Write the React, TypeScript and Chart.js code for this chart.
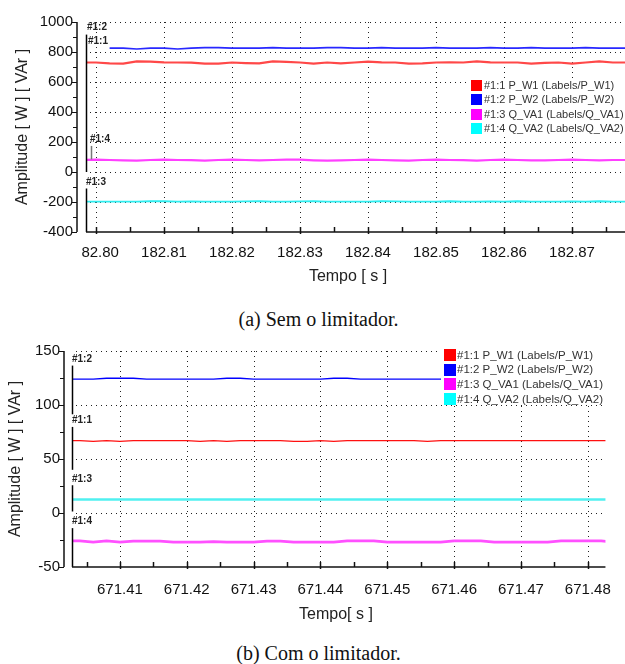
import React, { useEffect, useRef } from 'react';
import { Chart, registerables } from 'chart.js';
Chart.register(...registerables);

// ---------- Chart (a) data ----------
const timeA = [182.798, 182.800, 182.802, 182.804, 182.806, 182.808, 182.810, 182.812, 182.814, 182.816, 182.818, 182.820, 182.822, 182.824, 182.826, 182.828, 182.830, 182.832, 182.834, 182.836, 182.838, 182.840, 182.842, 182.844, 182.846, 182.848, 182.850, 182.852, 182.854, 182.856, 182.858, 182.860, 182.862, 182.864, 182.866, 182.868, 182.870, 182.872, 182.874, 182.876, 182.878];
const pW1A = [730, 730, 724, 722, 738, 736, 731, 730, 729, 722, 723, 730, 726, 724, 738, 734, 730, 722, 730, 724, 730, 736, 731, 730, 722, 724, 730, 731, 730, 737, 731, 730, 730, 722, 728, 730, 723, 730, 738, 730, 730];
const pW2A = [null, null, 826, 826, 820, 826, 826, 820, 826, 829, 829, 826, 826, 826, 829, 826, 826, 826, 829, 829, 826, 826, 829, 826, 826, 826, 829, 826, 826, 826, 829, 826, 826, 829, 826, 826, 826, 829, 826, 826, 826];
const qVA1A = [80, 82, 80, 78, 76, 80, 82, 80, 79, 76, 80, 82, 80, 78, 80, 83, 82, 78, 76, 77, 80, 82, 80, 78, 76, 80, 82, 80, 79, 76, 80, 82, 80, 77, 77, 80, 82, 80, 78, 80, 80];
const qVA2A = [-198, -198, -198, -198, -198, -195, -195, -198, -196, -198, -198, -198, -196, -195, -198, -198, -196, -195, -198, -198, -198, -198, -195, -196, -198, -198, -198, -195, -198, -198, -196, -198, -195, -198, -198, -198, -196, -198, -195, -198, -198];
const xTicksA = [182.80, 182.81, 182.82, 182.83, 182.84, 182.85, 182.86, 182.87];
const xTickLabelsA = ['182.80', '182.81', '182.82', '182.83', '182.84', '182.85', '182.86', '182.87'];
const xMinorA = [182.805, 182.815, 182.825, 182.835, 182.845, 182.855, 182.865, 182.875];
const yTicksA = [-400, -200, 0, 200, 400, 600, 800, 1000];
const yMinorA = [-300, -100, 100, 300, 500, 700, 900];
const legendA = ['#1:1 P_W1 (Labels/P_W1)', '#1:2 P_W2 (Labels/P_W2)', '#1:3 Q_VA1 (Labels/Q_VA1)', '#1:4 Q_VA2 (Labels/Q_VA2)'];
const markerTextA = ['#1:2', '#1:1', '#1:4', '#1:3'];
const markerTextYA = [968, 871, 219, -65];
const markerTextDxA = [1, 2, 4, 0];
const markerLineFromA = [916, -110, 174];
const markerLineToA = [0, -400, 84];
const markerLineDxA = [0, 0, 5];

// ---------- Chart (b) data ----------
const timeB = [671.402, 671.404, 671.406, 671.408, 671.410, 671.412, 671.414, 671.416, 671.418, 671.420, 671.422, 671.424, 671.426, 671.428, 671.430, 671.432, 671.434, 671.436, 671.438, 671.440, 671.442, 671.444, 671.446, 671.448, 671.450, 671.452, 671.454, 671.456, 671.458, 671.460, 671.462, 671.464, 671.466, 671.468, 671.470, 671.472, 671.474, 671.476, 671.478, 671.480, 671.482, 671.484];
const pW1B = [67, 67, 66.3, 67, 66.3, 67, 67, 67, 67, 67, 66.3, 67, 66.3, 67, 67, 67, 67, 66.3, 66.3, 67, 66.3, 67, 67, 67, 67, 67, 67, 66.3, 67, 67, 67, 67, 67, 67, 67, 67, 67, 67, 67, 67, 67, 67];
const pW2B = [124, 124, 124, 124.8, 124.8, 124.8, 124, 124, 124, 124, 124, 124, 124.8, 124.8, 124, 124, 124, 124, 124, 124, 124.8, 124.8, 124, 124, 124, 124, 124, 124, 124, 124, 124, 124, 124, 124, 124, 124, 124, 124, 124, 124, 124, 124];
const qVA1B = [-25.8, -25.8, -27, -25.8, -27, -26, -26, -26, -27, -27, -27, -26.5, -27, -27, -27, -26, -26, -27, -27, -27, -27, -25.8, -25.8, -25.8, -27, -27, -27, -27, -27, -25.8, -25.8, -25.8, -27, -27, -27, -27, -27, -25.8, -25.8, -25.8, -25.8, -27];
const qVA2B = [12.5, 12.5, 12.5, 12.5, 12.5, 12.5, 12.5, 12.5, 12.5, 12.5, 12.5, 12.5, 12.5, 12.5, 12.5, 12.5, 12.5, 12.5, 12.5, 12.5, 12.5, 12.5, 12.5, 12.5, 12.5, 12.5, 12.5, 12.5, 12.5, 12.5, 12.5, 12.5, 12.5, 12.5, 12.5, 12.5, 12.5, 12.5, 12.5, 12.5, 12.5, 12.5];
const xTicksB = [671.41, 671.42, 671.43, 671.44, 671.45, 671.46, 671.47, 671.48];
const xTickLabelsB = ['671.41', '671.42', '671.43', '671.44', '671.45', '671.46', '671.47', '671.48'];
const xMinorB = [671.405, 671.415, 671.425, 671.435, 671.445, 671.455, 671.465, 671.475];
const yTicksB = [-50, 0, 50, 100, 150];
const yMinorB = [-25, 25, 75, 125];
const legendB = ['#1:1 P_W1 (Labels/P_W1)', '#1:2 P_W2 (Labels/P_W2)', '#1:3 Q_VA1 (Labels/Q_VA1)', '#1:4 Q_VA2 (Labels/Q_VA2)'];
const markerTextB = ['#1:2', '#1:1', '#1:3', '#1:4'];
const markerTextYB = [142.8, 86, 31, -7.7];
const markerTextDxB = [0, 0, 0, 0];
const markerLineFromB = [136.5, 79.7, 25.7, -14];
const markerLineToB = [91.4, 40, 1.4, -50];
const markerLineDxB = [0, 0, 0, 0];

const legendColors = ['#ff0000', '#0000ff', '#ff00ff', '#00ffff'];
const FONT = '"Liberation Sans", Arial, sans-serif';

type Cfg = {
  width: number; height: number;
  time: number[]; series: (number | null)[][]; lineColors: string[]; lineWidths: number[];
  legend: string[];
  xMin: number; xMax: number; yMin: number; yMax: number;
  xTicks: number[]; xTickLabels: string[]; xMinor: number[];
  yTicks: number[]; yMinor: number[];
  yAxisWidth: number; padTop: number; padRight: number; xAxisHeight: number;
  xLabelPad: number; yLabelPad: number; yAxisGap: number;
  legendBox: { x: number; y: number; w: number; h: number; boxX: number; row0: number; rowGap: number; box: number; textX: number; font: number };
  markerText: string[]; markerTextY: number[]; markerTextDx: number[];
  markerLineFrom: number[]; markerLineTo: number[]; markerLineDx: number[];
  yTitle: string; yTitleX: number; xTitle: string; xTitleX: number; xTitleY: number;
  cover?: { x: number; y: number; w: number; h: number };
};

function makePlugin(cfg: Cfg) {
  return {
    id: 'decor',
    beforeDatasetsDraw(chart: any) {
      const { ctx, chartArea: a, scales } = chart;
      const x = scales.x, y = scales.y;
      ctx.save();
      ctx.strokeStyle = '#222';
      ctx.lineWidth = 1;
      ctx.setLineDash([1, 4]);
      for (const v of cfg.yTicks) {
        if (v === cfg.yMin) continue;
        const py = Math.round(y.getPixelForValue(v)) + 0.5;
        ctx.beginPath(); ctx.moveTo(a.left + 4, py); ctx.lineTo(a.right, py); ctx.stroke();
      }
      for (const v of cfg.xTicks) {
        const px = Math.round(x.getPixelForValue(v)) + 0.5;
        ctx.beginPath(); ctx.moveTo(px, a.top); ctx.lineTo(px, a.bottom); ctx.stroke();
      }
      ctx.restore();
    },
    afterDatasetsDraw(chart: any) {
      const { ctx, chartArea: a, scales } = chart;
      const x = scales.x, y = scales.y;
      ctx.save();
      // legend
      const L = cfg.legendBox;
      ctx.fillStyle = '#fff';
      ctx.fillRect(L.x, L.y, L.w, L.h);
      ctx.font = `${L.font}px ${FONT}`;
      ctx.textBaseline = 'middle';
      ctx.textAlign = 'left';
      chart.data.datasets.forEach((ds: any, i: number) => {
        const cy = L.row0 + i * L.rowGap;
        ctx.fillStyle = legendColors[i];
        ctx.fillRect(L.boxX, Math.round(cy - L.box / 2), L.box, L.box);
        ctx.fillStyle = '#333';
        ctx.fillText(ds.label, L.textX, cy + 0.5);
      });
      // marker lines
      ctx.lineWidth = 1.5;
      cfg.markerLineFrom.forEach((f, i) => {
        const px = a.left + 0.5 + cfg.markerLineDx[i];
        ctx.strokeStyle = cfg.markerLineDx[i] ? '#777' : '#000';
        ctx.beginPath();
        ctx.moveTo(px, y.getPixelForValue(f));
        ctx.lineTo(px, y.getPixelForValue(cfg.markerLineTo[i]));
        ctx.stroke();
      });
      // marker labels
      ctx.font = `bold 10px ${FONT}`;
      ctx.fillStyle = '#222';
      cfg.markerText.forEach((t, i) => {
        ctx.fillText(t, a.left + cfg.markerTextDx[i], y.getPixelForValue(cfg.markerTextY[i]));
      });
      // axes
      ctx.strokeStyle = '#111';
      ctx.lineWidth = 1.5;
      const ax = a.left - cfg.yAxisGap;
      ctx.beginPath(); ctx.moveTo(ax, a.top); ctx.lineTo(ax, a.bottom); ctx.stroke();
      ctx.beginPath(); ctx.moveTo(a.left, a.bottom); ctx.lineTo(a.right, a.bottom); ctx.stroke();
      ctx.lineWidth = 1;
      for (const v of cfg.yTicks) {
        const py = Math.round(y.getPixelForValue(v)) + 0.5;
        ctx.beginPath(); ctx.moveTo(ax - 5, py); ctx.lineTo(ax, py); ctx.stroke();
      }
      for (const v of cfg.yMinor) {
        const py = Math.round(y.getPixelForValue(v)) + 0.5;
        ctx.beginPath(); ctx.moveTo(ax - 4, py); ctx.lineTo(ax, py); ctx.stroke();
      }
      ctx.lineWidth = 1.5;
      for (const v of cfg.xTicks) {
        const px = Math.round(x.getPixelForValue(v)) + 0.5;
        ctx.beginPath(); ctx.moveTo(px, a.bottom - 5); ctx.lineTo(px, a.bottom + 2); ctx.stroke();
      }
      for (const v of cfg.xMinor) {
        const px = Math.round(x.getPixelForValue(v)) + 0.5;
        if (px > a.right) continue;
        ctx.beginPath(); ctx.moveTo(px, a.bottom - 5); ctx.lineTo(px, a.bottom); ctx.stroke();
      }
      ctx.restore();
    },
    afterDraw(chart: any) {
      const { ctx, chartArea: a } = chart;
      ctx.save();
      if (cfg.cover) {
        ctx.fillStyle = '#fff';
        ctx.fillRect(cfg.cover.x, cfg.cover.y, cfg.cover.w, cfg.cover.h);
      }
      ctx.fillStyle = '#222';
      ctx.font = `16px ${FONT}`;
      ctx.textAlign = 'center';
      ctx.textBaseline = 'middle';
      ctx.fillText(cfg.xTitle, cfg.xTitleX, cfg.xTitleY);
      ctx.translate(cfg.yTitleX, (a.top + a.bottom) / 2);
      ctx.rotate(-Math.PI / 2);
      ctx.fillText(cfg.yTitle, 0, 0);
      ctx.restore();
    },
  };
}

function Plot({ cfg, top }: { cfg: Cfg; top: number }) {
  const ref = useRef<HTMLCanvasElement | null>(null);
  useEffect(() => {
    if (!ref.current) return;
    const datasets = cfg.series.map((s, i) => ({
      label: cfg.legend[i],
      data: s.map((v, j) => ({ x: cfg.time[j], y: v })),
      borderColor: cfg.lineColors[i],
      backgroundColor: cfg.lineColors[i],
      borderWidth: cfg.lineWidths[i],
      pointRadius: 0,
      tension: 0,
      spanGaps: false,
    }));
    const chart = new Chart(ref.current, {
      type: 'line',
      data: { datasets },
      options: {
        responsive: false,
        animation: false,
        events: [],
        layout: { padding: { left: 0, right: cfg.padRight, top: cfg.padTop, bottom: 0 } },
        plugins: { legend: { display: false }, tooltip: { enabled: false }, title: { display: false } },
        scales: {
          x: {
            type: 'linear',
            min: cfg.xMin,
            max: cfg.xMax,
            grid: { display: false, drawTicks: false },
            border: { display: false },
            afterBuildTicks: (s: any) => { s.ticks = cfg.xTicks.map((v) => ({ value: v })); },
            afterFit: (s: any) => { s.height = cfg.xAxisHeight; },
            ticks: {
              autoSkip: false,
              maxRotation: 0,
              padding: cfg.xLabelPad,
              color: '#111',
              font: { family: FONT, size: 15 },
              callback: (_v: any, i: number) => cfg.xTickLabels[i],
            },
          },
          y: {
            type: 'linear',
            min: cfg.yMin,
            max: cfg.yMax,
            grid: { display: false, drawTicks: false },
            border: { display: false },
            afterBuildTicks: (s: any) => { s.ticks = cfg.yTicks.map((v) => ({ value: v })); },
            afterFit: (s: any) => { s.width = cfg.yAxisWidth; },
            ticks: {
              padding: cfg.yLabelPad,
              color: '#111',
              font: { family: FONT, size: 15 },
              callback: (v: any) => String(v),
            },
          },
        },
      } as any,
      plugins: [makePlugin(cfg) as any],
    });
    return () => chart.destroy();
  }, [cfg]);
  return (
    <canvas
      ref={ref}
      width={cfg.width}
      height={cfg.height}
      style={{ position: 'absolute', left: 0, top, width: cfg.width, height: cfg.height }}
    />
  );
}

const cfgA: Cfg = {
  width: 625, height: 300,
  time: timeA, series: [pW1A, pW2A, qVA1A, qVA2A],
  lineColors: ['#ff4848', '#2828ff', '#ff40ff', '#30eef0'], lineWidths: [2.2, 1.6, 2.2, 1.8],
  legend: legendA,
  xMin: 182.79853, xMax: 182.87779, yMin: -400, yMax: 1000,
  xTicks: xTicksA, xTickLabels: xTickLabelsA, xMinor: xMinorA, yTicks: yTicksA, yMinor: yMinorA,
  yAxisWidth: 86, padTop: 15, padRight: 0, xAxisHeight: 68, xLabelPad: 12, yLabelPad: 13, yAxisGap: 9,
  legendBox: { x: 467, y: 78, w: 158, h: 58, boxX: 471, row0: 85, rowGap: 14.5, box: 11, textX: 484, font: 11 },
  markerText: markerTextA, markerTextY: markerTextYA, markerTextDx: markerTextDxA,
  markerLineFrom: markerLineFromA, markerLineTo: markerLineToA, markerLineDx: markerLineDxA,
  yTitle: 'Amplitude [ W ] [ VAr ]', yTitleX: 23, xTitle: 'Tempo [ s ]', xTitleX: 348, xTitleY: 277,
  cover: { x: 0, y: 241, w: 81, h: 22 },
};

const cfgB: Cfg = {
  width: 625, height: 305,
  time: timeB, series: [pW1B, pW2B, qVA1B, qVA2B],
  lineColors: ['#ff1010', '#0000ff', '#ff50ff', '#50f0f0'], lineWidths: [1.4, 1.4, 2.6, 2.6],
  legend: legendB,
  xMin: 671.40283, xMax: 671.48264, yMin: -50, yMax: 150,
  xTicks: xTicksB, xTickLabels: xTickLabelsB, xMinor: xMinorB, yTicks: yTicksB, yMinor: yMinorB,
  yAxisWidth: 72, padTop: 15, padRight: 8, xAxisHeight: 68, xLabelPad: 14, yLabelPad: 12, yAxisGap: 8,
  legendBox: { x: 441, y: 18, w: 172, h: 56, boxX: 444, row0: 25, rowGap: 14.7, box: 12, textX: 457, font: 11.5 },
  markerText: markerTextB, markerTextY: markerTextYB, markerTextDx: markerTextDxB,
  markerLineFrom: markerLineFromB, markerLineTo: markerLineToB, markerLineDx: markerLineDxB,
  yTitle: 'Amplitude [ W ] [ VAr ]', yTitleX: 16, xTitle: 'Tempo[ s ]', xTitleX: 336, xTitleY: 285,
};

const captionStyle: React.CSSProperties = {
  position: 'absolute', left: 6, width: 625, textAlign: 'center',
  fontFamily: '"Liberation Serif", "Times New Roman", serif', fontSize: 20, lineHeight: '20px', color: '#111',
};

export default function App() {
  return (
    <div style={{ position: 'absolute', left: 0, top: 0, width: 625, height: 664, background: '#fff' }}>
      <Plot cfg={cfgA} top={0} />
      <div style={{ ...captionStyle, top: 309 }}>(a) Sem o limitador.</div>
      <Plot cfg={cfgB} top={330} />
      <div style={{ ...captionStyle, top: 643 }}>(b) Com o limitador.</div>
    </div>
  );
}
